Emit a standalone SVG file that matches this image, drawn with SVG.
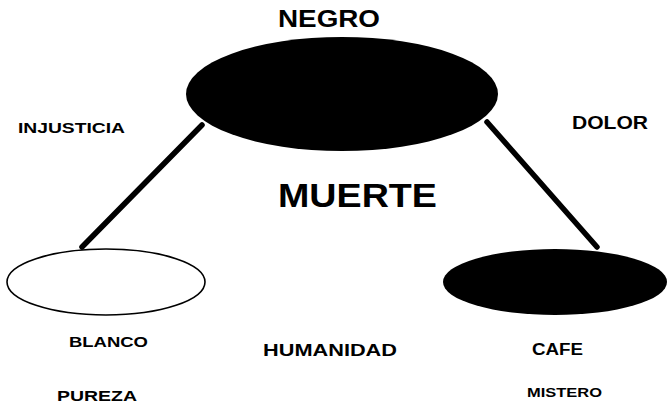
<svg xmlns="http://www.w3.org/2000/svg" width="667" height="404" viewBox="0 0 667 404">
<style>
text{font-family:"Liberation Sans",Arial,sans-serif;font-weight:bold;fill:#000}
.conn{stroke:#000;stroke-width:5.5;stroke-linecap:round;fill:none}
</style>
<rect width="667" height="404" fill="#fff"/>
<g id="connectors">
<line class="conn" x1="202" y1="125" x2="82" y2="247"/>
<line class="conn" x1="487" y1="122" x2="597" y2="247"/>
</g>
<g id="negro">
<ellipse cx="342" cy="94" rx="156" ry="57" fill="#000"/>
<text x="278" y="27" font-size="24" textLength="102" lengthAdjust="spacingAndGlyphs">NEGRO</text>
</g>
<g id="blanco">
<ellipse cx="106" cy="282" rx="99" ry="33" fill="#fff" stroke="#000" stroke-width="1.6"/>
<text x="69" y="347" font-size="15" textLength="79" lengthAdjust="spacingAndGlyphs">BLANCO</text>
</g>
<g id="cafe">
<ellipse cx="555" cy="282" rx="112" ry="33" fill="#000"/>
<text x="532" y="355" font-size="16" textLength="51" lengthAdjust="spacingAndGlyphs">CAFE</text>
</g>
<g id="labels">
<text x="278" y="207" font-size="33" textLength="159" lengthAdjust="spacingAndGlyphs">MUERTE</text>
<text x="18" y="133" font-size="15" textLength="107" lengthAdjust="spacingAndGlyphs">INJUSTICIA</text>
<text x="572" y="129" font-size="19" textLength="76" lengthAdjust="spacingAndGlyphs">DOLOR</text>
<text x="263" y="356" font-size="17" textLength="134" lengthAdjust="spacingAndGlyphs">HUMANIDAD</text>
<text x="57" y="401" font-size="15" textLength="80" lengthAdjust="spacingAndGlyphs">PUREZA</text>
<text x="527" y="397" font-size="13" textLength="75" lengthAdjust="spacingAndGlyphs">MISTERO</text>
</g>
</svg>
